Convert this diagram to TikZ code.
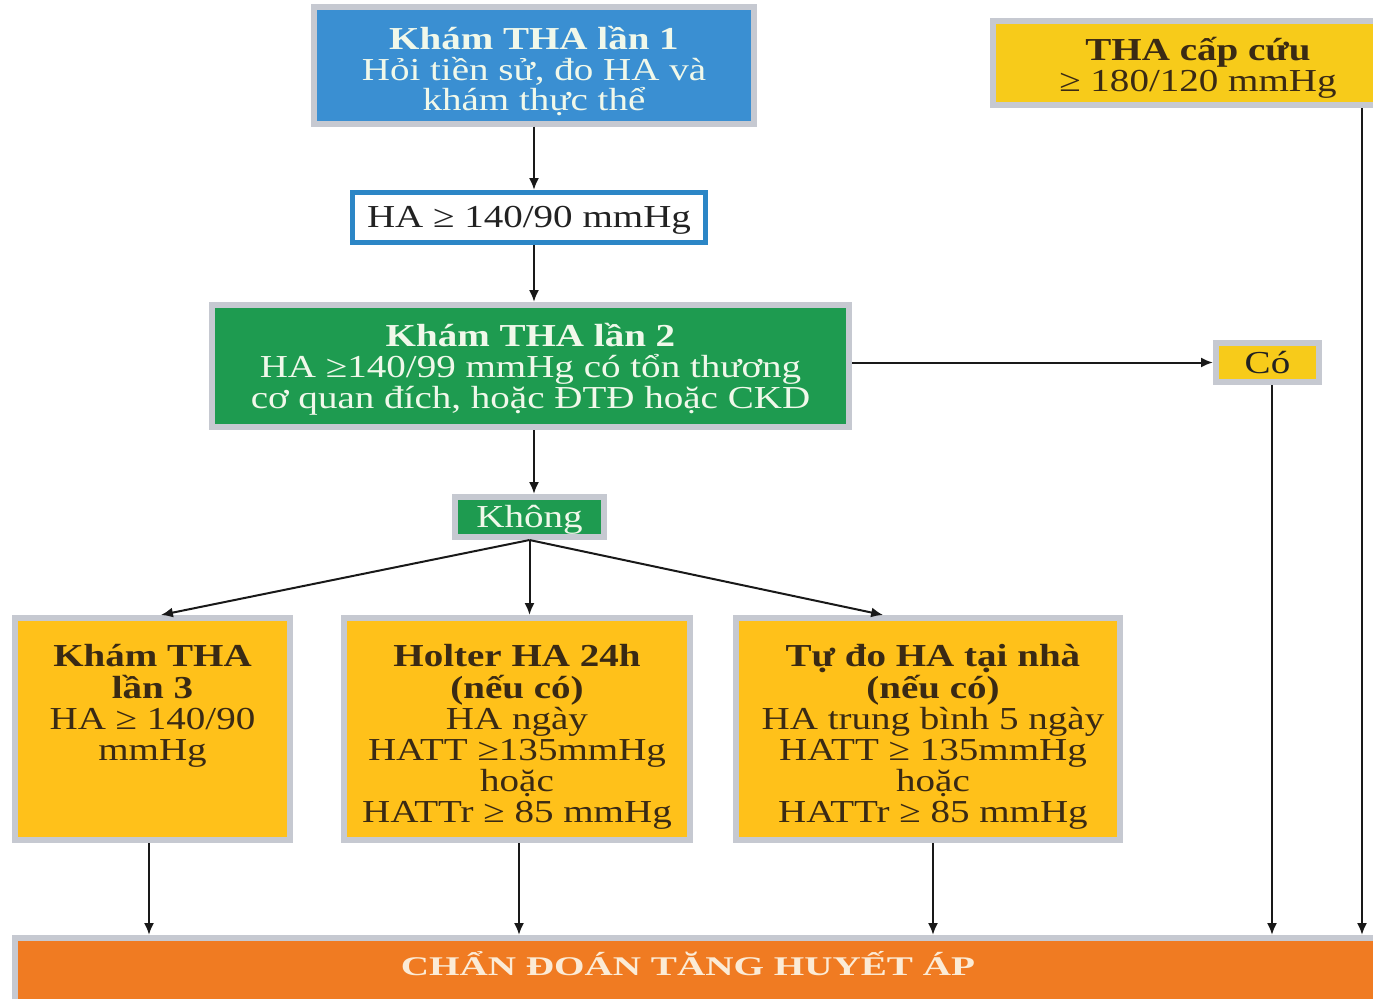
\documentclass[tikz,border=0pt]{standalone}
\usepackage{fontspec}
\setmainfont{Liberation Serif}[FakeStretch=1.22]
\usetikzlibrary{arrows.meta,calc}
\definecolor{bblue}{HTML}{3A8FD2}
\definecolor{hblue}{HTML}{2C86C6}
\definecolor{bgreen}{HTML}{1E9B50}
\definecolor{bgray}{HTML}{C6C9D1}
\definecolor{lyellow}{HTML}{F7CB1A}
\definecolor{oyellow}{HTML}{FFC11A}
\definecolor{orng}{HTML}{F07B22}
\definecolor{ltext}{HTML}{F0F8EA}
\definecolor{dtext}{HTML}{222222}
\definecolor{ytext}{HTML}{3A2A14}
\definecolor{cream}{HTML}{FBEBD6}
\newcommand\myfs{\fontsize{16pt}{15.6pt}\selectfont}
\newcommand\myfstop{\fontsize{16pt}{15.2pt}\selectfont}
\begin{document}
\begin{tikzpicture}[x=0.5pt,y=-0.5pt,
  box/.style={draw=bgray, line width=3pt, inner sep=0pt},
  lt/.style={align=center, inner sep=0pt, font=\myfs},
  ytxt/.style={anchor=north, yshift=-11.5pt, inner sep=0pt, align=center, text=ytext, font=\myfs},
  arr/.style={line width=1pt, draw=black!90, -{Latex[length=6pt,width=5pt]}}]
\useasboundingbox (0,0) rectangle (1373,998);
\clip (0,0) rectangle (1373,998);
\fill[white] (0,0) rectangle (1373,998);

\node[box, fill=bblue, minimum width=220pt, minimum height=58.5pt,
  label={[lt, font=\myfstop, text=ltext, yshift=-3pt]center:\textbf{Khám THA lần 1}\\Hỏi tiền sử, đo HA và\\khám thực thể}] (b1) at (534,65) {};
\node[box, draw=hblue, line width=2.5pt, fill=white, minimum width=176.5pt, minimum height=25pt,
  label={[lt, text=dtext, yshift=-1.5pt]center:HA ≥ 140/90 mmHg}] (ha) at (529,217.5) {};
\node[box, fill=bgreen, minimum width=318.5pt, minimum height=61pt,
  label={[lt, text=ltext, yshift=-1.5pt]center:\textbf{Khám THA lần 2}\\HA ≥140/99 mmHg có tổn thương\\cơ quan đích, hoặc ĐTĐ hoặc CKD}] (b2) at (530.5,366) {};
\node[box, fill=bgreen, minimum width=74.5pt, minimum height=20pt,
  label={[lt, text=ltext, yshift=-1.5pt]center:Không}] (kh) at (529.5,517) {};
\node[box, fill=lyellow, minimum width=51.5pt, minimum height=19.5pt,
  label={[lt, text=dtext]center:Có}] (co) at (1267.5,362.5) {};
\node[box, fill=lyellow, minimum width=205pt, minimum height=42pt,
  label={[lt, text=ytext, yshift=-2.5pt]center:\textbf{THA cấp cứu}\\≥ 180/120 mmHg}] (cc) at (1198,63) {};

\node[box, fill=oyellow, minimum width=137.5pt, minimum height=111pt] (y3) at (152.5,729) {};
\node[ytxt] (t3) at (y3.north) {\vphantom{Ấ}\textbf{Khám THA}\\\textbf{lần 3}\\HA ≥ 140/90\\mmHg};
\node[box, fill=oyellow, minimum width=173pt, minimum height=111pt] (y4) at (517,729) {};
\node[ytxt] (t4) at (y4.north) {\vphantom{Ấ}\textbf{Holter HA 24h}\\\textbf{(nếu có)}\\HA ngày\\HATT ≥135mmHg\\hoặc\\HATTr ≥ 85 mmHg};
\node[box, fill=oyellow, minimum width=192pt, minimum height=111pt] (y5) at (928,729) {};
\node[ytxt] (t5) at ($(y5.north)+(5,0)$) {\vphantom{Ấ}\textbf{Tự đo HA tại nhà}\\\textbf{(nếu có)}\\HA trung bình 5 ngày\\HATT ≥ 135mmHg\\hoặc\\HATTr ≥ 85 mmHg};

\node[box, fill=orng, minimum width=692.5pt, minimum height=36pt] (or) at (707.5,974) {};
\node[inner sep=0pt, font=\fontsize{13.5pt}{15pt}\selectfont\bfseries\addfontfeatures{FakeStretch=1.45}, text=cream] (ort) at (688,964) {CHẨN ĐOÁN TĂNG HUYẾT ÁP};

\coordinate (ccx) at (1362,0);

\draw[arr] (b1.south) -- (b1.south |- ha.north);
\draw[arr] (ha.south -| b1.south) -- (b1.south |- b2.north);
\draw[arr] (b2.south -| b1.south) -- (b1.south |- kh.north);
\draw[arr] (kh.south) -- ($(y3.north west)!0.53!(y3.north east)$);
\draw[arr] (kh.south) -- (kh.south |- y4.north);
\draw[arr] (kh.south) -- ($(y5.north west)!0.385!(y5.north east)$);
\draw[arr] (co.west -| b2.east) -- (co.west);
\draw[arr] ($(co.south)+(4.5,0)$) -- ($(co.south |- or.north)+(4.5,0)$);
\draw[arr] (cc.south -| ccx) -- (ccx |- or.north);
\draw[arr] ($(y3.south)+(-3.5,0)$) -- ($(y3.south |- or.north)+(-3.5,0)$);
\draw[arr] ($(y4.south)+(2,0)$) -- ($(y4.south |- or.north)+(2,0)$);
\draw[arr] ($(y5.south)+(5,0)$) -- ($(y5.south |- or.north)+(5,0)$);
\end{tikzpicture}
\end{document}
